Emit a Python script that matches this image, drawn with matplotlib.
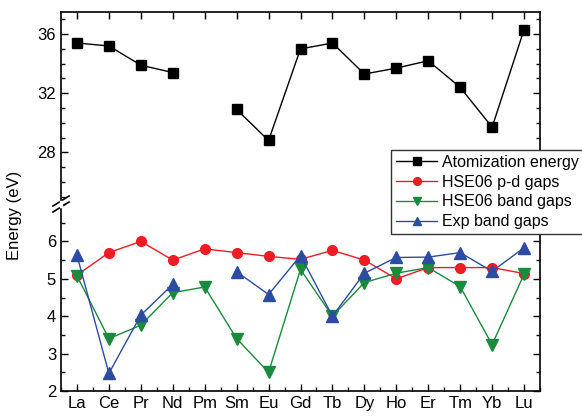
import numpy as np
import matplotlib
matplotlib.use("Agg")
import matplotlib.pyplot as plt
from matplotlib.ticker import MultipleLocator
from matplotlib.lines import Line2D

plt.rcParams['font.family'] = ['Liberation Sans', 'DejaVu Sans']

elements = ['La', 'Ce', 'Pr', 'Nd', 'Pm', 'Sm', 'Eu', 'Gd', 'Tb', 'Dy', 'Ho', 'Er', 'Tm', 'Yb', 'Lu']
atomization = [35.4, 35.2, 33.9, 33.4, np.nan, 30.9, 28.8, 35.0, 35.4, 33.3, 33.7, 34.2, 32.4, 29.7, 36.3]
hse_pd = [5.1, 5.7, 6.0, 5.5, 5.8, 5.7, 5.6, 5.52, 5.76, 5.5, 5.0, 5.3, 5.3, 5.3, 5.14]
hse_band = [5.08, 3.4, 3.76, 4.63, 4.78, 3.4, 2.5, 5.25, 4.0, 4.9, 5.15, 5.3, 4.79, 3.24, 5.12]
exp_band = [5.63, 2.47, 4.03, 4.85, np.nan, 5.19, 4.58, 5.62, 4.0, 5.15, 5.57, 5.58, 5.7, 5.2, 5.83]

x = np.arange(len(elements))

fig = plt.figure(figsize=(5.82, 4.16), dpi=100)
W, H = 582, 416
left, right = 61 / W, 540 / W
y_top, y_brk, y_bot = 12, 204, 391
ax_t = fig.add_axes([left, 1 - y_brk / H, right - left, (y_brk - y_top) / H])
ax_b = fig.add_axes([left, 1 - y_bot / H, right - left, (y_bot - y_brk) / H])

ax_t.plot(x, atomization, '-s', color='black', lw=1, ms=6.5, label='Atomization energy')
ax_b.plot(x, hse_pd, '-o', color='#ee1c25', lw=1, ms=7, label='HSE06 p-d gaps')
ax_b.plot(x, hse_band, '-v', color='#1a8a3c', lw=1, ms=8, label='HSE06 band gaps')
ax_b.plot(x, exp_band, '-^', color='#2c4ca3', lw=1, ms=8, label='Exp band gaps')

for ax in (ax_t, ax_b):
    ax.set_xlim(-0.5, 14.5)
    ax.tick_params(direction='in', which='both', top=True, right=True, labelsize=12,
                   width=1, length=5)
    ax.tick_params(which='minor', length=3)
    for s in ax.spines.values():
        s.set_linewidth(1.2)

ax_t.set_ylim(24.5, 37.5)
ax_t.set_yticks([28, 32, 36])
ax_t.yaxis.set_minor_locator(MultipleLocator(1))
ax_t.set_xticks(x)
ax_t.tick_params(axis='x', bottom=False, labelbottom=False)
ax_t.spines['bottom'].set_visible(False)

ax_b.set_ylim(2, 7)
ax_b.set_yticks([2, 3, 4, 5, 6])
ax_b.yaxis.set_minor_locator(MultipleLocator(0.5))
ax_b.set_xticks(x)
ax_b.set_xticklabels(elements)
ax_b.xaxis.set_minor_locator(MultipleLocator(0.5))
ax_b.tick_params(axis='x', top=False, which='both')
ax_b.spines['top'].set_visible(False)

# break mark on the left spine
bx, by = left, 1 - y_brk / H
dx, dy = 8 / W, 5 / H
for off in (-3 / H, 3 / H):
    fig.add_artist(Line2D([bx - dx, bx + dx], [by + off - dy, by + off + dy],
                          color='black', lw=1.2, transform=fig.transFigure))
fig.add_artist(Line2D([bx, bx], [by - 2 / H, by + 2 / H], color='white', lw=2.5,
                      transform=fig.transFigure))

fig.text(15 / W, 1 - 215 / H, 'Energy (eV)', rotation=90, ha='center', va='center', fontsize=12)

handles = ax_t.get_lines() + ax_b.get_lines()
leg = fig.legend(handles, [h.get_label() for h in handles], loc='upper left',
                 bbox_to_anchor=(391 / W, 1 - 150 / H), bbox_transform=fig.transFigure,
                 fontsize=11.5, frameon=True, fancybox=False, edgecolor='#333333',
                 handlelength=2.6, labelspacing=0.3, borderpad=0.3, handletextpad=0.3,
                 borderaxespad=0, markerscale=0.8)
leg.get_frame().set_linewidth(1)
leg.get_frame().set_alpha(1)

fig.savefig('out.png', dpi=100)
